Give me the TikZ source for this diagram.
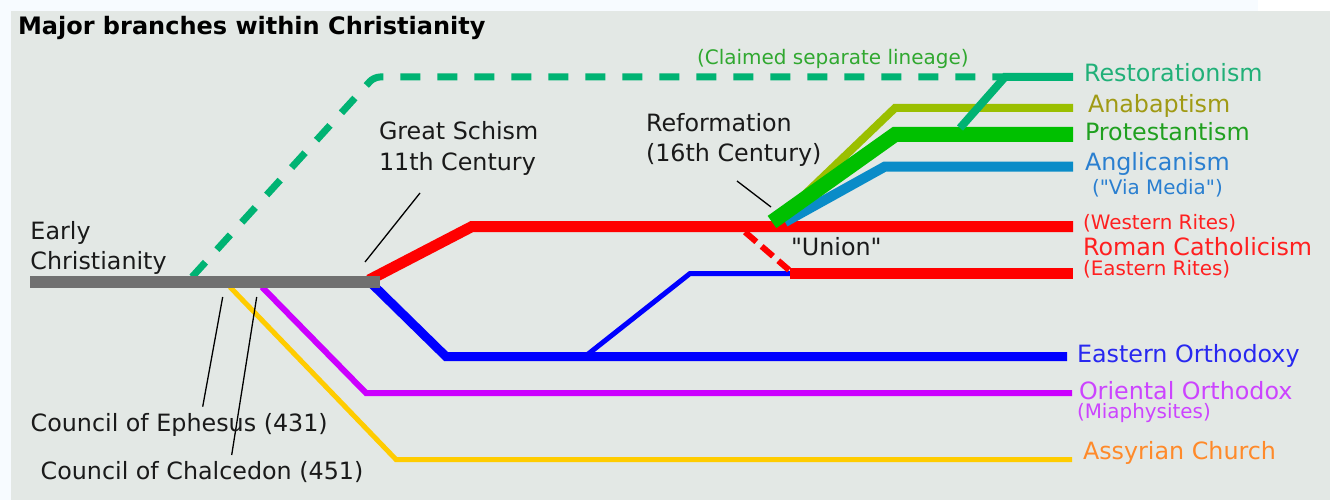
\documentclass[tikz,border=0pt]{standalone}
\usepackage{fontspec}
\setmainfont{DejaVu Sans}
\newfontfamily\qfont{DejaVu Sans}
\definecolor{bgray}{HTML}{E3E8E5}
\definecolor{edge}{HTML}{F7FBFF}
\definecolor{cgray}{HTML}{707070}
\definecolor{crest}{HTML}{00B373}
\definecolor{cana}{HTML}{9ABF00}
\definecolor{cprot}{HTML}{00C000}
\definecolor{cangl}{HTML}{0A8CC8}
\definecolor{cred}{HTML}{FF0000}
\definecolor{cblue}{HTML}{0000FF}
\definecolor{cpurp}{HTML}{CC00FF}
\definecolor{cyell}{HTML}{FFCC00}
\definecolor{trest}{HTML}{20B078}
\definecolor{tana}{HTML}{A09A14}
\definecolor{tprot}{HTML}{20A020}
\definecolor{tangl}{HTML}{2A7FD0}
\definecolor{tred}{HTML}{FF2020}
\definecolor{tblue}{HTML}{2828F0}
\definecolor{tpurp}{HTML}{CC44FF}
\definecolor{tasyr}{HTML}{FF8A2A}
\definecolor{tclaim}{HTML}{30A830}
\definecolor{tblack}{HTML}{1A1A1A}
\newcommand{\sq}{{\qfont\char34}}
\tikzset{
  lbl/.style={anchor=base west, inner sep=0pt, outer sep=0pt, font=\fontsize{23.8}{28}\selectfont, text=tblack},
  small/.style={lbl, font=\fontsize{19.9}{23}\selectfont},
  branch/.style={line cap=butt, line join=miter},
  pointer/.style={draw=black, line width=1.3pt},
}
\begin{document}
\begin{tikzpicture}[x=1pt,y=-1pt]
\useasboundingbox (0,0) rectangle (1330,500);
\fill[edge] (0,0) rectangle (1330,500);
\fill[white] (1258,0) rectangle (1330,11);
\fill[bgray] (11,11) rectangle (1330,500);

% ---- coordinates ----
\coordinate (g0) at (30,282);
\coordinate (g1) at (380,282);
\coordinate (d0) at (192,277);
\coordinate (d1) at (374,77);
\coordinate (d2) at (1005,77);
\coordinate (r0) at (960,128);
\coordinate (r1) at (1005,77);
\coordinate (r2) at (1073,77);
\coordinate (a0) at (776,222);
\coordinate (a1) at (895,108);
\coordinate (a2) at (1073,108);
\coordinate (an0) at (785,222);
\coordinate (an1) at (885,166.5);
\coordinate (an2) at (1073,166.5);
\coordinate (p0) at (772,222);
\coordinate (p1) at (895,134.5);
\coordinate (p2) at (1073,134.5);
\coordinate (rc0) at (369,280);
\coordinate (rc1) at (472,226.5);
\coordinate (rc2) at (1073,226.5);
\coordinate (er0) at (790,273.5);
\coordinate (er1) at (1073,273.5);
\coordinate (u0) at (745,232);
\coordinate (u1) at (789,270);
\coordinate (b0) at (372,284);
\coordinate (b1) at (446,356.5);
\coordinate (b2) at (1067,356.5);
\coordinate (bb0) at (585,356.5);
\coordinate (bb1) at (690,273.5);
\coordinate (bb2) at (790,273.5);
\coordinate (o0) at (262,287);
\coordinate (o1) at (366,393);
\coordinate (o2) at (1072,393);
\coordinate (y0) at (230,287);
\coordinate (y1) at (396,459.5);
\coordinate (y2) at (1072,459.5);
\coordinate (ce0) at (222.7,297);
\coordinate (ce1) at (202.7,406.7);
\coordinate (cc0) at (256.7,297);
\coordinate (cc1) at (231.7,455);
\coordinate (gs0) at (420,193);
\coordinate (gs1) at (365,262);
\coordinate (rf0) at (737,181);
\coordinate (rf1) at (771,207);

% ---- branches ----
\draw[branch, cyell, line width=5pt] (y0) -- (y1) -- (y2);
\draw[branch, cpurp, line width=6pt] (o0) -- (o1) -- (o2);
\draw[branch, cblue, line width=5pt] (bb0) -- (bb1) -- (bb2);
\draw[branch, cblue, line width=9pt] (b0) -- (b1) -- (b2);
\draw[branch, cred, line width=11pt] (rc0) -- (rc1) -- (rc2);
\draw[branch, cred, line width=11pt] (er0) -- (er1);
\draw[branch, cred, line width=6pt, dash pattern=on 15pt off 7pt] (u0) -- (u1);
\draw[branch, crest, line width=7pt, dash pattern=on 20pt off 17pt, rounded corners=6pt] (d0) -- (d1) -- (d2);
\draw[branch, cana, line width=8pt] (a0) -- (a1) -- (a2);
\draw[branch, cangl, line width=10pt] (an0) -- (an1) -- (an2);
\draw[branch, cprot, line width=15pt] (p0) -- (p1) -- (p2);
\draw[branch, crest, line width=8pt] (r0) -- (r1) -- (r2);
\draw[branch, cgray, line width=12pt] (g0) -- (g1);

% ---- pointers ----
\draw[pointer] (ce0) -- (ce1);
\draw[pointer] (cc0) -- (cc1);
\draw[pointer] (gs0) -- (gs1);
\draw[pointer] (rf0) -- (rf1);

% ---- labels ----
\node[lbl, font=\fontsize{24}{28}\selectfont\bfseries, text=black] (title) at (18,35) {Major branches within Christianity};
\node[lbl] (early1) at (30.5,239.3) {Early};
\node[lbl] (early2) at (30.5,269) {Christianity};
\node[lbl] (eph) at (30.7,431.7) {Council of Ephesus (431)};
\node[lbl] (chal) at (40.7,479) {Council of Chalcedon (451)};
\node[lbl] (gs1t) at (379,139.3) {Great Schism};
\node[lbl] (gs2t) at (379,170) {11th Century};
\node[lbl] (rf1t) at (646,131.7) {Reformation};
\node[lbl] (rf2t) at (646,161.7) {(16th Century)};
\node[lbl] (union) at (791,255) {\sq Union\sq};
\node[lbl, font=\fontsize{20}{24}\selectfont, text=tclaim] (claim) at (697,64.7) {(Claimed separate lineage)};
\node[lbl, text=trest] (rest) at (1084,81.7) {Restorationism};
\node[lbl, text=tana] (ana) at (1088,113) {Anabaptism};
\node[lbl, text=tprot] (prot) at (1085,140.7) {Protestantism};
\node[lbl, text=tangl] (angl) at (1085,170) {Anglicanism};
\node[small, text=tangl] (via) at (1092,194) {(\sq Via Media\sq)};
\node[small, text=tred] (west) at (1083,229) {(Western Rites)};
\node[lbl, text=tred] (rcath) at (1083,255) {Roman Catholicism};
\node[small, text=tred] (east) at (1083,275) {(Eastern Rites)};
\node[lbl, text=tblue] (eo) at (1077,362) {Eastern Orthodoxy};
\node[lbl, text=tpurp] (oo) at (1079,399) {Oriental Orthodox};
\node[small, text=tpurp] (mia) at (1077,418) {(Miaphysites)};
\node[lbl, text=tasyr] (asyr) at (1083,459) {Assyrian Church};
\end{tikzpicture}
\end{document}
